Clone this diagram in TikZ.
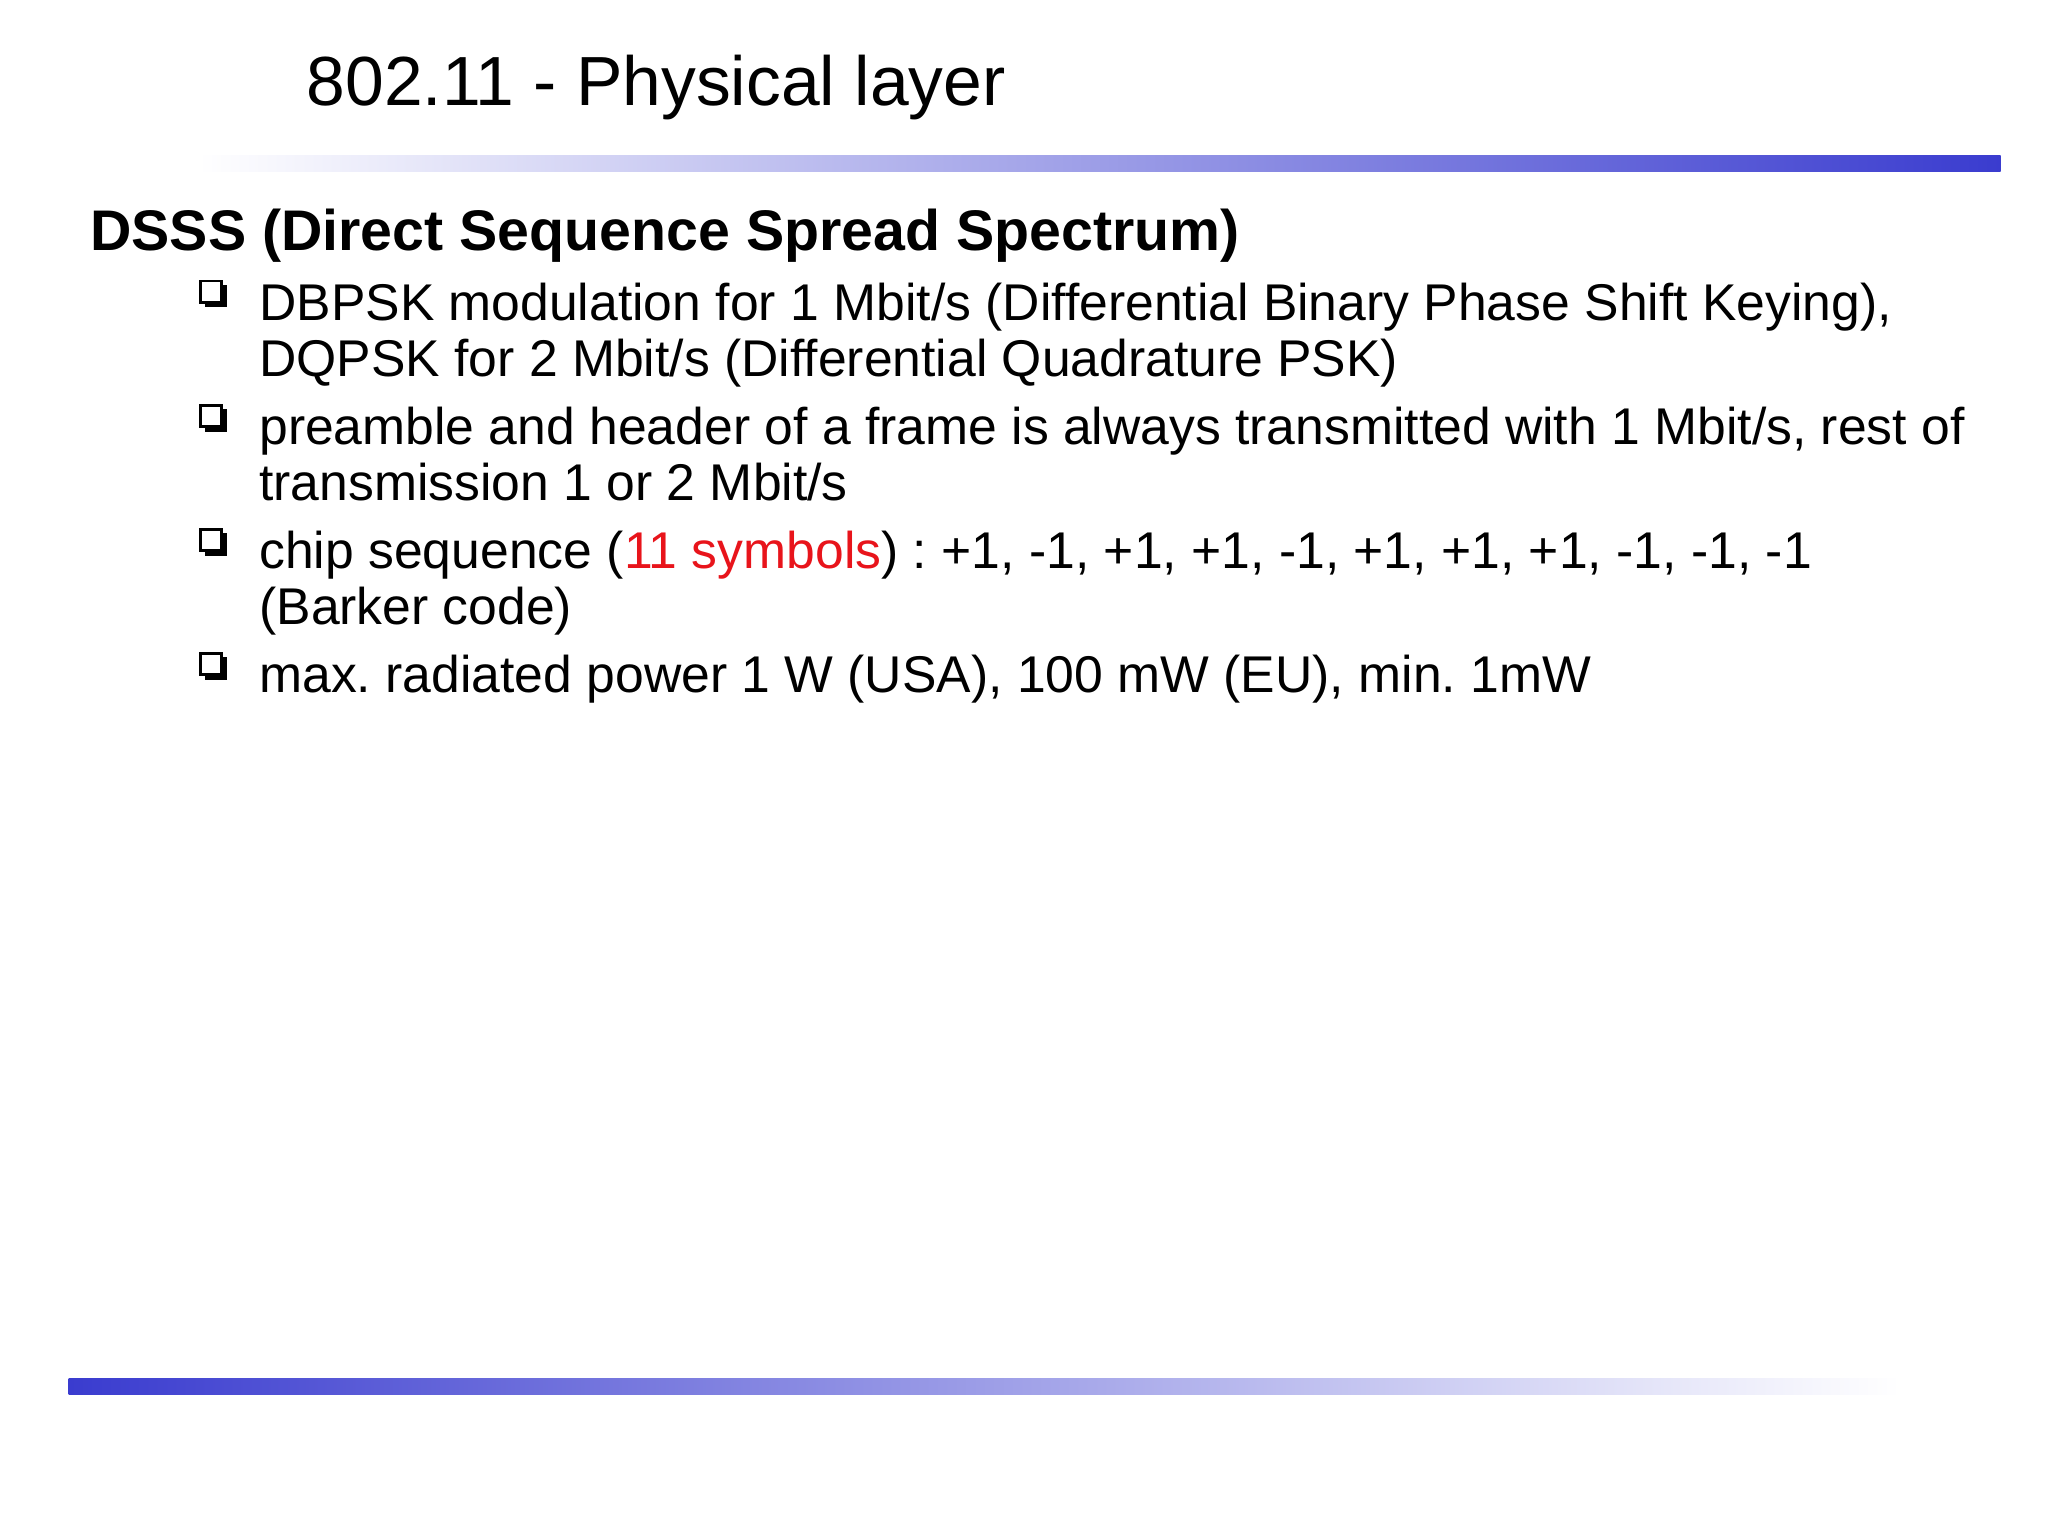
\documentclass[tikz,border=0pt]{standalone}
\usepackage{fontspec}
\setmainfont{Liberation Sans}
\frenchspacing
\definecolor{barblue}{HTML}{3A3CCF}
\definecolor{txtred}{HTML}{E8141B}
\begin{document}
\begin{tikzpicture}[x=0.0132cm,y=-0.0132cm,
  title/.style={anchor=base west,inner sep=0,font=\fontsize{19.8}{24}\selectfont},
  head/.style={anchor=base west,inner sep=0,font=\fontsize{16.3}{19}\selectfont\bfseries},
  item/.style={anchor=base west,inner sep=0,font=\fontsize{14.7}{17}\selectfont},
  ]
\useasboundingbox (0,0) rectangle (1552,1164);
\fill[white] (0,0) rectangle (1552,1164);
\shade[left color=white,right color=barblue] (150,118) rectangle (1516,130);
\shade[left color=barblue,right color=white] (52,1045) rectangle (1440,1057);
\node[title] (t) at (232,80) {802.11 - Physical layer};
\node[head] (h) at (68,190) {DSSS (Direct Sequence Spread Spectrum)};
\foreach \y in {213,307,401,495}{
  \fill[black] (155,\y+3) rectangle (172,\y+20);
  \fill[white] (152,\y) rectangle (168,\y+16);
  \draw[black,line width=0.8pt] (152,\y) rectangle (168,\y+16);
}
\node[item] (a1) at (196,243) {DBPSK modulation for 1 Mbit/s (Differential Binary Phase Shift Keying),};
\node[item] (a2) at (196,285) {DQPSK for 2 Mbit/s (Differential Quadrature PSK)};
\node[item] (b1) at (196,337) {preamble and header of a frame is always transmitted with 1 Mbit/s, rest of};
\node[item] (b2) at (196,379) {transmission 1 or 2 Mbit/s};
\node[item] (c1) at (196,431) {chip sequence (\textcolor{txtred}{11 symbols}) : +1, -1, +1, +1, -1, +1, +1, +1, -1, -1, -1};
\node[item] (c2) at (196,473) {(Barker code)};
\node[item] (d1) at (196,525) {max. radiated power 1 W (USA), 100 mW (EU), min. 1mW};
\end{tikzpicture}
\end{document}
